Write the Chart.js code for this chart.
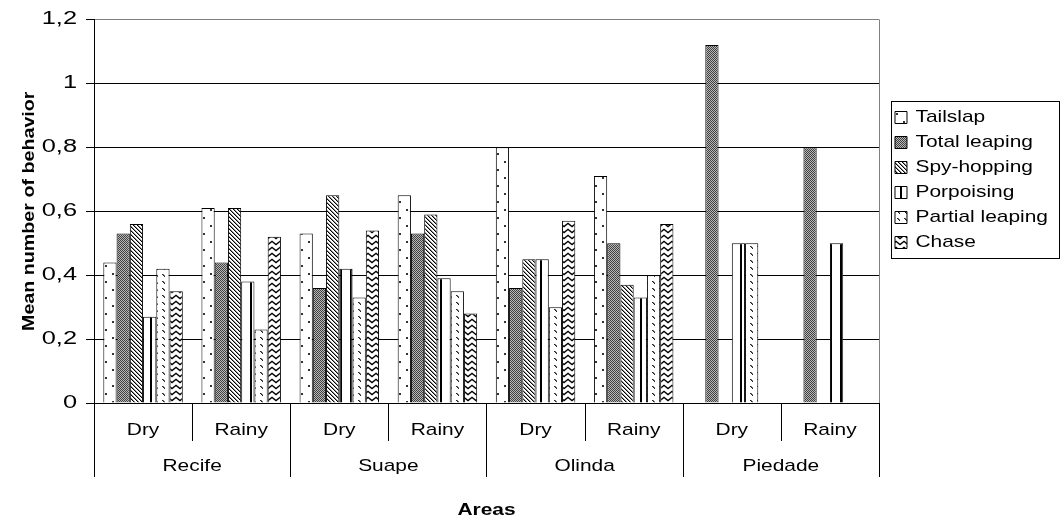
<!DOCTYPE html>
<html><head><meta charset="utf-8">
<script src="https://cdn.jsdelivr.net/npm/chart.js@4.4.1/dist/chart.umd.min.js"></script>
<style>html,body{margin:0;padding:0;background:#fff}canvas{display:block}</style>
</head><body>
<canvas id="c" width="1062" height="522"></canvas>
<script>
// ---- data ----
const seasons = ['Dry', 'Rainy', 'Dry', 'Rainy', 'Dry', 'Rainy', 'Dry', 'Rainy'];
const areas = ['Recife', 'Suape', 'Olinda', 'Piedade'];
const seriesNames = ['Tailslap', 'Total leaping', 'Spy-hopping', 'Porpoising', 'Partial leaping', 'Chase'];
const tailslap       = [0.44, 0.61, 0.53, 0.65, 0.80, 0.71, 0,    0];
const totalLeaping   = [0.53, 0.44, 0.36, 0.53, 0.36, 0.50, 1.12, 0.80];
const spyHopping     = [0.56, 0.61, 0.65, 0.59, 0.45, 0.37, 0,    0];
const porpoising     = [0.27, 0.38, 0.42, 0.39, 0.45, 0.33, 0.50, 0.50];
const partialLeaping = [0.42, 0.23, 0.33, 0.35, 0.30, 0.40, 0.50, 0];
const chase          = [0.35, 0.52, 0.54, 0.28, 0.57, 0.56, 0,    0];
const yTickLabels = ['0', '0,2', '0,4', '0,6', '0,8', '1', '1,2'];
const yAxisTitle = 'Mean number of behavior';
const xAxisTitle = 'Areas';

const FONT = "'Liberation Sans', Arial, sans-serif";
const canvas = document.getElementById('c');
const ctx = canvas.getContext('2d');

// wide text rendering (the reference uses horizontally wide glyphs)
const stretchFor = c => (c.font.indexOf('17.5px') >= 0 ? 1.45 : 1.23);
const protoFill = CanvasRenderingContext2D.prototype.fillText;
const protoMeasure = CanvasRenderingContext2D.prototype.measureText;
ctx.fillText = function (t, x, y) {
  const sx = stretchFor(this);
  this.save();
  this.translate(x, y);
  this.scale(sx, 1);
  protoFill.call(this, t, 0, 0);
  this.restore();
};
ctx.measureText = function (t) {
  const sx = stretchFor(this);
  const m = protoMeasure.call(this, t);
  return {
    width: m.width * sx,
    actualBoundingBoxAscent: m.actualBoundingBoxAscent,
    actualBoundingBoxDescent: m.actualBoundingBoxDescent,
    actualBoundingBoxLeft: m.actualBoundingBoxLeft * sx,
    actualBoundingBoxRight: m.actualBoundingBoxRight * sx
  };
};

// ---- fill patterns ----
function tile(w, h, draw) {
  const c = document.createElement('canvas');
  c.width = w; c.height = h;
  const g = c.getContext('2d');
  g.fillStyle = '#fff';
  g.fillRect(0, 0, w, h);
  g.fillStyle = '#000';
  g.strokeStyle = '#000';
  draw(g, w, h);
  return ctx.createPattern(c, 'repeat');
}
const patDots = tile(14, 16, g => {
  g.fillStyle = '#333';
  g.fillRect(0, 1, 2, 2);
  g.fillRect(7, 9, 2, 2);
});
const patChecker = tile(2, 2, g => {
  g.fillStyle = '#b8b8b8'; g.fillRect(0, 0, 2, 2);
  g.fillStyle = '#404040'; g.fillRect(0, 0, 1, 1); g.fillRect(1, 1, 1, 1);
});
const patDiag = tile(4, 4, g => {
  for (let i = 0; i < 4; i++) {
    g.fillStyle = '#000'; g.fillRect(i, i, 1, 1);
    g.fillStyle = '#909090'; g.fillRect((i + 1) % 4, i, 1, 1);
  }
});
const patVert = tile(10, 2, g => {
  g.fillRect(0, 0, 2, 2);
});
const patDash = tile(7, 7, g => {
  g.fillStyle = '#222';
  g.fillRect(1, 1, 1, 1); g.fillRect(2, 2, 1, 1); g.fillRect(3, 3, 1, 1);
  g.fillStyle = '#777';
  g.fillRect(2, 1, 1, 1); g.fillRect(3, 2, 1, 1);
});
const patZig = tile(8, 6, g => {
  g.lineWidth = 1.4;
  g.beginPath(); g.moveTo(-1, 0.5); g.lineTo(4, 4.5); g.lineTo(9, 0.5); g.stroke();
});
const patterns = [patDots, patChecker, patDiag, patVert, patDash, patZig];
const seriesValues = [tailslap, totalLeaping, spyHopping, porpoising, partialLeaping, chase];

// ---- decorations: plot frame, category separators, legend frame ----
const framePlugin = {
  id: 'frame',
  afterDraw(chart) {
    const c = chart.ctx;
    const ca = chart.chartArea;
    const x = chart.scales.x, x2 = chart.scales.x2;
    c.save();
    c.lineWidth = 1;
    c.strokeStyle = '#808080';
    const rx = Math.round(ca.right) + 0.5;
    c.beginPath(); c.moveTo(rx, ca.top); c.lineTo(rx, ca.bottom); c.stroke();
    c.strokeStyle = '#000';
    const n = seasons.length;
    const step = (x.right - x.left) / n;
    for (let i = 0; i <= n; i++) {
      const px = Math.round(x.left + i * step) + 0.5;
      const end = (i % 2 === 0) ? x2.top + 36 : x.bottom;
      c.beginPath(); c.moveTo(px, x.top); c.lineTo(px, end); c.stroke();
    }
    const lg = chart.legend;
    const hb = lg.legendHitBoxes;
    if (hb && hb.length) {
      const last = hb[hb.length - 1];
      const t = Math.round(hb[0].top - 8) + 0.5;
      const b = Math.round(last.top + last.height + 6.5) + 0.5;
      const l = Math.round(lg.left + 4) + 0.5;
      const r = chart.width - 2.5;
      c.strokeStyle = '#000';
      c.strokeRect(l, t, r - l, b - t);
    }
    c.restore();
  }
};

Chart.defaults.color = '#000';
Chart.defaults.font.family = FONT;

new Chart(ctx, {
  type: 'bar',
  data: {
    labels: seasons,
    datasets: seriesNames.map((name, i) => ({
      label: name,
      data: seriesValues[i],
      backgroundColor: patterns[i],
      borderColor: '#000',
      borderWidth: 1,
      borderSkipped: 'start',
      barPercentage: 1,
      categoryPercentage: 0.81,
      xAxisID: 'x',
      yAxisID: 'y'
    }))
  },
  options: {
    responsive: false,
    animation: false,
    devicePixelRatio: 1,
    layout: { padding: { top: 17, right: 4, bottom: 0, left: 0 } },
    plugins: {
      tooltip: { enabled: false },
      legend: {
        position: 'right',
        align: 'start',
        fullSize: false,
        title: { display: true, text: '', font: { size: 10 }, padding: { top: 69.5, bottom: 0 } },
        labels: { boxWidth: 12, boxHeight: 12, padding: 8, color: '#000', font: { family: FONT, size: 17 } }
      }
    },
    scales: {
      x: {
        type: 'category',
        position: 'bottom',
        grid: { display: false, drawTicks: false },
        border: { display: true, color: '#000', width: 1 },
        ticks: { padding: 17, maxRotation: 0, autoSkip: false, color: '#000', font: { family: FONT, size: 17 } },
        afterFit: s => { s.height = 38; }
      },
      x2: {
        type: 'category',
        position: 'bottom',
        labels: areas,
        offset: true,
        grid: { display: false, drawTicks: false },
        border: { display: false },
        ticks: { padding: 15, maxRotation: 0, autoSkip: false, color: '#000', font: { family: FONT, size: 17 } },
        title: { display: true, text: xAxisTitle, color: '#000', font: { family: FONT, size: 17, weight: 'bold' }, padding: { top: 0, bottom: 1 } },
        afterFit: s => { s.height = 81; }
      },
      y: {
        min: 0,
        max: 1.2,
        ticks: {
          stepSize: 0.2,
          padding: 9,
          color: '#000',
          font: { family: FONT, size: 17.5 },
          callback: v => yTickLabels[Math.round(v / 0.2)]
        },
        grid: {
          color: c => (c.tick && c.tick.value > 1.1) ? '#808080' : '#000',
          tickColor: '#000',
          tickLength: 8,
          lineWidth: 1
        },
        border: { color: '#000', width: 1 },
        title: { display: true, text: yAxisTitle, color: '#000', font: { family: FONT, size: 16, weight: 'bold' }, padding: { top: 20, bottom: 0 } },
        afterFit: s => { s.width = 94; }
      },
      y2: {
        position: 'right',
        display: true,
        min: 0, max: 1,
        grid: { display: false, drawTicks: false },
        border: { display: false },
        ticks: { display: false },
        afterFit: s => { s.width = 8; }
      }
    }
  },
  plugins: [framePlugin]
});
</script>
</body></html>
